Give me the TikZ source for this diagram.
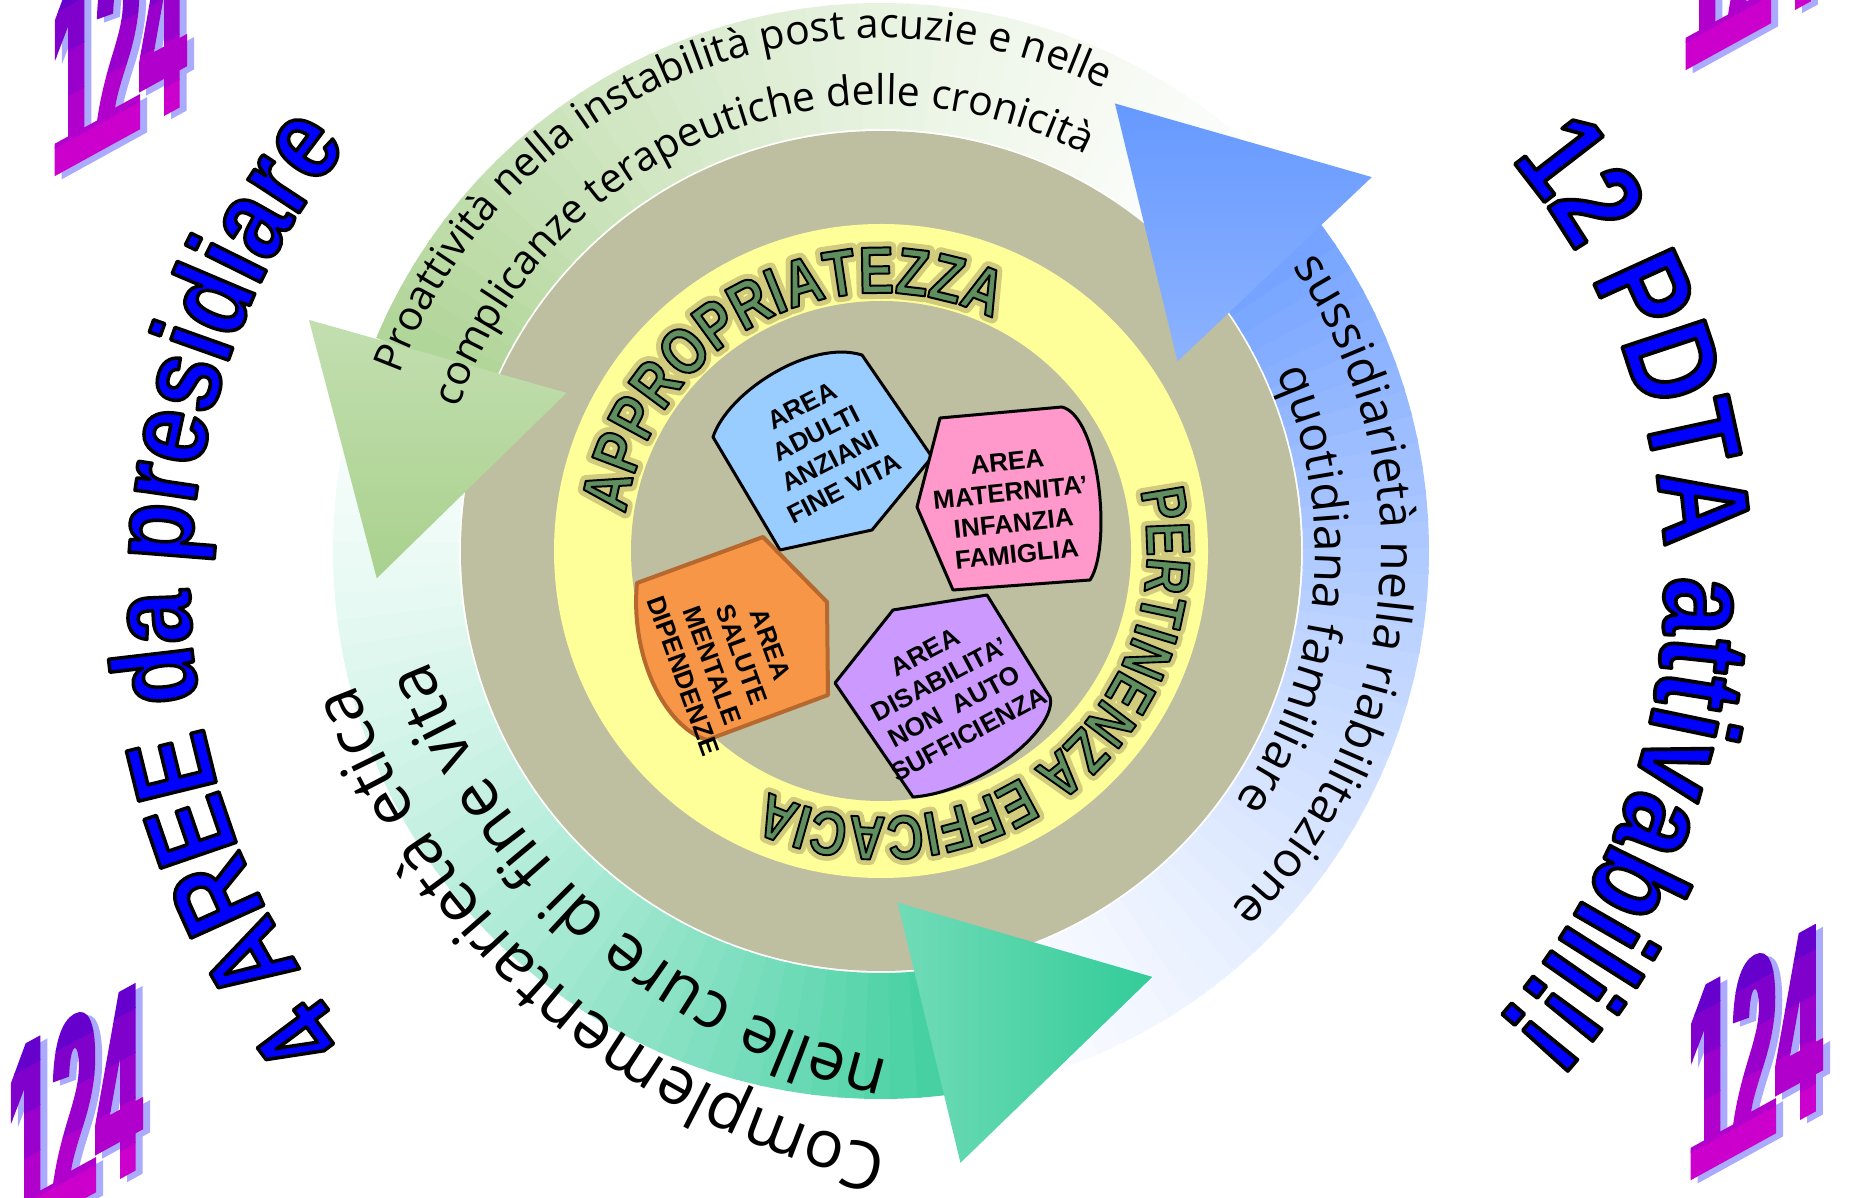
\documentclass[tikz,border=0pt]{standalone}
\usepackage{fontspec}
\setmainfont{Open Sans}
\newfontfamily\arcfont{Open Sans}
\newfontfamily\areafont{Liberation Sans}
\newfontfamily\ringfont[FakeStretch=0.8,FakeBold=3]{Liberation Sans}
\newfontfamily\ringglowfont[FakeStretch=0.8,FakeBold=18]{Liberation Sans}
\newfontfamily\wordartfont[FakeStretch=0.82,FakeBold=3]{Liberation Sans}
\newfontfamily\digitfont[FakeStretch=0.3,FakeBold=2]{Liberation Sans}
\usetikzlibrary{decorations.text}

\definecolor{wheelgrey}{RGB}{190,190,160}
\definecolor{ringyellow}{RGB}{255,255,153}
\definecolor{greenarrow}{RGB}{169,209,142}
\definecolor{bluearrow}{RGB}{102,153,255}
\definecolor{tealarrow}{RGB}{51,204,153}
\definecolor{adultblue}{RGB}{153,204,255}
\definecolor{mumpink}{RGB}{255,153,204}
\definecolor{mindorange}{RGB}{247,150,70}
\definecolor{mindedge}{RGB}{182,104,46}
\definecolor{disabpurple}{RGB}{204,153,255}
\definecolor{wordgreen}{RGB}{95,142,95}
\definecolor{ringglow}{RGB}{208,203,125}
\definecolor{titleblue}{RGB}{0,0,255}
\definecolor{digitshadow}{RGB}{170,170,255}
\definecolor{digittop}{RGB}{102,0,204}
\definecolor{digitbottom}{RGB}{204,0,204}

% stroke colour for outlined letters (fake bold strokes with RG)
\newcommand\blackrim{\special{pdf:literal direct 1 j 0 0 0 RG}}
\newcommand\roundrim{\special{pdf:literal direct 1 j}}

\tikzset{
  arcline/.style 2 args={decorate,decoration={text along path,text align=center,
    text={|\arcfont\fontsize{#1}{#1}\selectfont|#2}}},
  ringglow/.style 2 args={decorate,decoration={text along path,text align=center,
    text={|\ringglowfont\bfseries\fontsize{#1}{#1}\selectfont\color{ringglow}\roundrim|#2}}},
  ringword/.style 2 args={decorate,decoration={text along path,text align=center,
    text={|\ringfont\bfseries\fontsize{#1}{#1}\selectfont\color{wordgreen}\blackrim|#2}}},
  bigword/.style 2 args={decorate,decoration={text along path,text align=center,
    text={|\wordartfont\bfseries\fontsize{#1}{#1}\selectfont\color{titleblue}\blackrim|#2}}},
  areaedge/.style={line width=3,line join=round},
  areatext/.style={font=\areafont\bfseries\fontsize{26}{31}\selectfont,align=center,inner sep=0pt},
  digits/.style={font=\digitfont\bfseries\fontsize{265}{265}\selectfont,anchor=base west,
    inner sep=0pt,transform shape},
}

\begin{document}
\begin{tikzpicture}[x=1pt,y=1pt]
\useasboundingbox (0,0) rectangle (1865,1197);

\begin{scope}[shift={(881,646)}]
% wheel
\fill[wheelgrey] (0,0) circle (420);
\fill[ringyellow] (0,0) circle (327);
\fill[wheelgrey] (0,0) circle (250);

% arrow bands, pale at the tail
\foreach \col/\tail in {greenarrow/45,bluearrow/-75,tealarrow/165}{
  \foreach \i in {0,...,39}{
    \pgfmathsetmacro\a{\tail+\i*2.79}
    \pgfmathsetmacro\b{\a+3.3}
    \pgfmathsetmacro\p{3+87*(\i/39)*(0.5+0.5*\i/39)}
    \fill[\col!\p!white] (\a:422) arc[start angle=\a,end angle=\b,radius=422]
      -- (\b:548) arc[start angle=\b,end angle=\a,radius=548] -- cycle;
  }
}
% arrow heads
\shade[top color=greenarrow!70!white,bottom color=greenarrow] (158:617) -- (183.1:505) -- (153.3:352) -- cycle;
\shade[top color=bluearrow,bottom color=bluearrow!75!white] (37.3:617) -- (62.4:505) -- (32.6:352) -- cycle;
\shade[left color=tealarrow!70!white,right color=tealarrow] (-82.6:617) -- (-57.5:505) -- (-87.3:352) -- cycle;

\path[arcline={41}{Proattività nella instabilità post acuzie e nelle}] (192:513) arc[start angle=192,end angle=32,radius=513];
\path[arcline={41}{complicanze terapeutiche delle cronicità}] (192:446) arc[start angle=192,end angle=32,radius=446];
\path[arcline={48}{sussidiarietà nella riabilitazione}] (75:500) arc[start angle=75,end angle=-86,radius=500];
\path[arcline={48}{quotidiana familiare}] (75:434) arc[start angle=75,end angle=-86,radius=434];

% words on the yellow ring
\path[ringglow={66}{APPROPRIATEZZA}] (200:258) arc[start angle=200,end angle=36,radius=258];
\path[ringglow={62}{PERTINENZA EFFICACIA}] (40:266) arc[start angle=40,end angle=-142,radius=266];
\path[ringword={66}{APPROPRIATEZZA}] (200:258) arc[start angle=200,end angle=36,radius=258];
\path[ringword={62}{PERTINENZA EFFICACIA}] (40:266) arc[start angle=40,end angle=-142,radius=266];
\end{scope}

% the four areas
\draw[areaedge,fill=adultblue] (713,760) .. controls (728,805) and (810,858) .. (862,842)
  -- (932,740) -- (872,667) -- (780,647) -- cycle;
\draw[areaedge,fill=mumpink] (940,779) -- (1062,790) .. controls (1100,780) and (1112,650) .. (1090,617)
  -- (953,607) -- (917,690) -- cycle;
\draw[areaedge,draw=mindedge,line width=4,fill=mindorange] (637,614) -- (763,660) -- (827,595) -- (828,502)
  -- (707,457) .. controls (665,470) and (630,540) .. cycle;
\draw[areaedge,fill=disabpurple] (893,587) -- (987,602) -- (1050,500) .. controls (1058,468) and (980,405) .. (913,400)
  -- (835,514) -- cycle;

\node[areatext,rotate=27] (adulti) at (823,750) {AREA\\ADULTI\\ANZIANI\\FINE VITA};
\node[areatext,rotate=6] (maternita) at (1012,689) {AREA\\MATERNITA’\\INFANZIA\\FAMIGLIA};
\node[areatext,rotate=-70] (mentale) at (727,537) {AREA\\SALUTE\\MENTALE\\DIPENDENZE};
\node[areatext,rotate=28] (disabilita) at (947,504) {AREA\\DISABILITA’\\NON\ \ AUTO\\SUFFICIENZA};

% lower left band text
\begin{scope}[shift={(1045,768)}]
\path[arcline={66}{Complementarietà etica}] (289:736) arc[start angle=289,end angle=169,radius=736];
\end{scope}
\begin{scope}[shift={(1041,776)}]
\path[arcline={66}{nelle cure di fine vita}] (289:658) arc[start angle=289,end angle=169,radius=658];
\end{scope}

% big blue titles
\begin{scope}[shift={(895,607)}]
\path[bigword={116}{4 AREE da presidiare}] (250:705) arc[start angle=250,end angle=110,radius=705];
\end{scope}
\begin{scope}[shift={(1010,615)}]
\path[bigword={126}{12 PDTA attivabili!!}] (60:655) arc[start angle=60,end angle=-62,radius=655];
\end{scope}

% 124 in the corners
\foreach \bx/\by in {52/1022,1683/1128,8/-41,1688/18}{
  \begin{scope}[shift={(\bx,\by)},yslant=0.55]
    \node[digits,text=digitshadow] at (7,-7) {124};
    \foreach \k in {0,...,4}{
      \pgfmathsetmacro\q{\k*25}
      \begin{scope}
        \clip (-20,\k*45-20) rectangle (200,\k*45+26);
        \node[digits,text=digittop!\q!digitbottom] at (0,0) {124};
      \end{scope}
    }
  \end{scope}
}
\end{tikzpicture}
\end{document}
